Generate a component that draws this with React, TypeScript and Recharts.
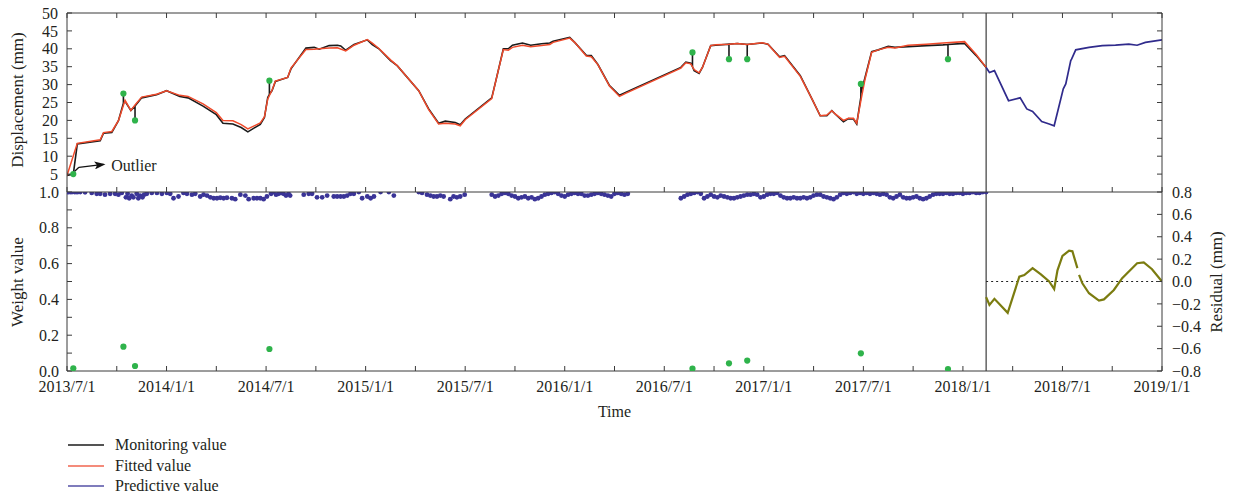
import React from 'react';
import { ComposedChart, Line, Scatter, XAxis, YAxis, ReferenceLine, ReferenceDot, Label } from 'recharts';

// time is counted in months from 2013/7/1
const dateLabels = ['2013/7/1', '2014/1/1', '2014/7/1', '2015/1/1', '2015/7/1', '2016/1/1', '2016/7/1', '2017/1/1', '2017/7/1', '2018/1/1', '2018/7/1', '2019/1/1'];
const monthTicks = [0, 3, 6, 9, 12, 15, 18, 21, 24, 27, 30, 33, 36, 39, 42, 45, 48, 51, 54, 57, 60, 63, 66];
const displacementTicks = [5, 10, 15, 20, 25, 30, 35, 40, 45, 50];
const weightTicks = [0, 0.1, 0.2, 0.3, 0.4, 0.5, 0.6, 0.7, 0.8, 0.9, 1.0];
const residualTicks = [-0.8, -0.6, -0.4, -0.2, 0, 0.2, 0.4, 0.6, 0.8];

const forecastStart = 55.4;

// [month, displacement mm] - spikes are the raw outliers
const monitoring: [number, number][] = [
    [0, 4.6], [0.38, 5.0], [0.62, 13.4], [2.0, 14.3], [2.2, 16.4], [2.7, 16.6], [3.1, 19.9],
    [3.4, 24.8], [3.4, 27.5], [3.4, 24.8], [3.5, 25.3], [3.85, 22.8], [4.1, 24.0], [4.1, 20.0], [4.1, 24.0],
    [4.5, 26.3], [5.4, 27.2], [6.0, 28.3], [6.8, 26.7], [7.3, 26.3], [8.2, 24.0], [9.0, 21.6], [9.4, 19.2],
    [10.0, 19.0], [10.5, 18.0], [10.9, 16.8], [11.65, 18.9], [11.9, 20.8], [12.1, 26.4], [12.2, 27.3],
    [12.2, 31.1], [12.2, 27.3], [12.36, 28.3], [12.56, 30.9], [13.3, 32.0], [13.5, 34.4], [14.4, 40.2],
    [14.9, 40.4], [15.2, 39.9], [15.8, 40.9], [16.3, 41.0], [16.5, 40.8], [16.8, 39.6], [17.3, 41.2],
    [18.1, 42.5], [18.4, 41.2], [18.8, 40.0], [19.5, 36.7], [19.9, 35.3], [21.2, 28.3], [21.8, 23.2],
    [22.4, 19.2], [22.8, 19.8], [23.4, 19.4], [23.7, 18.8], [24.0, 20.4], [25.6, 26.3], [25.85, 31.1],
    [26.3, 40.0], [26.6, 40.0], [26.85, 41.0], [27.45, 41.6], [27.95, 41.0], [28.6, 41.4], [29.1, 41.6],
    [29.3, 42.1], [30.3, 43.2], [30.6, 41.8], [31.3, 38.2], [31.6, 38.1], [32.0, 35.6], [32.7, 29.7],
    [33.3, 27.0], [33.7, 27.9], [37.0, 34.8], [37.3, 36.3], [37.6, 36.0], [37.7, 35.0], [37.7, 39.0],
    [37.7, 35.0], [37.8, 33.9], [38.1, 33.1], [38.3, 34.8], [38.8, 40.9], [39.1, 41.0], [39.9, 41.3],
    [39.9, 37.1], [39.9, 41.3], [40.4, 41.5], [41.0, 41.2], [41.0, 37.1], [41.0, 41.2], [41.9, 41.6],
    [42.25, 41.3], [42.95, 37.8], [43.25, 38.1], [44.2, 32.5], [44.9, 26.0], [45.4, 21.3], [45.8, 21.3],
    [46.1, 22.7], [46.3, 21.8], [46.8, 19.6], [47.1, 20.5], [47.4, 20.4], [47.6, 19.0], [47.85, 26.5],
    [47.85, 30.2], [47.85, 27.5], [48.1, 32.0], [48.5, 39.2], [48.9, 39.7], [49.5, 40.7], [49.9, 40.4],
    [50.7, 40.6], [51.8, 40.9], [52.8, 41.1], [53.1, 41.2], [53.1, 37.1], [53.1, 41.2], [54.1, 41.5],
    [54.8, 38.1], [55.4, 34.8],
];

const fitted: [number, number][] = [
    [0, 4.6], [0.62, 13.6], [2.0, 14.6], [2.2, 16.6], [2.7, 16.9], [3.1, 19.9], [3.5, 25.6], [3.85, 22.8],
    [4.1, 24.3], [4.5, 26.5], [5.4, 27.3], [6.0, 28.3], [6.8, 27.0], [7.3, 26.7], [8.2, 24.6], [9.0, 22.2],
    [9.4, 20.0], [10.0, 19.9], [10.5, 18.8], [10.9, 17.6], [11.65, 19.3], [11.9, 21.0], [12.1, 26.0],
    [12.36, 28.5], [12.56, 31.0], [13.3, 32.0], [13.5, 34.6], [14.4, 39.8], [14.9, 39.9], [15.2, 40.0],
    [15.8, 40.2], [16.3, 40.3], [16.8, 39.4], [17.3, 41.0], [18.1, 42.6], [18.4, 41.6], [18.8, 40.1],
    [19.5, 36.9], [19.9, 35.3], [21.2, 28.3], [21.8, 23.0], [22.4, 19.0], [22.8, 19.2], [23.4, 19.0],
    [23.7, 18.5], [24.0, 20.2], [25.6, 26.1], [25.85, 31.1], [26.3, 39.8], [26.6, 39.6], [26.85, 40.4],
    [27.45, 41.0], [27.95, 40.6], [28.6, 40.9], [29.1, 41.2], [29.3, 41.8], [30.3, 43.0], [30.6, 41.8],
    [31.3, 38.0], [31.6, 37.8], [32.0, 35.6], [32.7, 29.6], [33.3, 26.7], [33.7, 27.6], [37.0, 34.6],
    [37.3, 36.1], [37.6, 35.8], [37.8, 34.2], [38.1, 33.3], [38.3, 34.8], [38.8, 40.9], [39.1, 41.1],
    [39.9, 41.3], [40.4, 41.5], [41.0, 41.2], [41.9, 41.7], [42.25, 41.3], [42.95, 37.6], [43.25, 37.9],
    [44.2, 32.3], [44.9, 26.0], [45.4, 21.3], [45.8, 21.5], [46.1, 22.7], [46.3, 21.8], [46.8, 20.0],
    [47.1, 20.6], [47.4, 20.6], [47.6, 19.2], [47.85, 25.5], [48.1, 31.5], [48.5, 39.0], [48.9, 39.7],
    [49.5, 40.4], [49.9, 40.2], [50.7, 41.0], [51.8, 41.3], [52.8, 41.6], [54.1, 42.0], [54.8, 38.4],
    [55.4, 34.8],
];

const predictive: [number, number][] = [
    [55.4, 34.8], [55.6, 33.4], [55.9, 33.9], [56.75, 25.5], [57.45, 26.3], [57.85, 23.2], [58.2, 22.5],
    [58.75, 19.7], [59.2, 19.0], [59.5, 18.5], [60.05, 28.8], [60.2, 30.2], [60.5, 36.7], [60.55, 37.1],
    [60.8, 39.7], [61.6, 40.4], [62.4, 40.9], [63.2, 41.0], [64.0, 41.3], [64.5, 41.0], [65.0, 41.8],
    [66.0, 42.5],
];

// [month, residual mm]
const residual: [number, number | null][] = [
    [55.4, -0.14], [55.6, -0.21], [55.9, -0.155], [56.7, -0.28], [57.4, 0.043], [57.7, 0.058],
    [58.2, 0.12], [58.7, 0.064], [59.2, 0.0], [59.5, -0.067], [59.7, 0.1], [60.0, 0.228],
    [60.4, 0.275], [60.6, 0.27], [60.9, 0.12], [60.95, null], [61.0, 0.06], [61.2, -0.016], [61.6, -0.105],
    [62.2, -0.17], [62.5, -0.16], [63.1, -0.076], [63.6, 0.03], [64.5, 0.163], [64.9, 0.17], [65.4, 0.11],
    [66.0, 0.0],
];

const outlierMonths = [0.38, 3.4, 4.1, 12.2, 37.7, 39.9, 41.0, 47.85, 53.1];
const outlierValues = [5.0, 27.5, 20.0, 31.1, 39.0, 37.1, 37.1, 30.2, 37.1];
const outlierWeights = [0.015, 0.136, 0.028, 0.123, 0.013, 0.043, 0.058, 0.099, 0.011];

// [month, weight] for the sparse stretches
const sparseWeights: [number, number][] = [
    [0, 1], [0.1, 1], [0.2, 1], [0.3, 1], [0.45, 1], [0.55, 1], [0.65, 1], [0.8, 1], [1.09, 0.998],
    [1.49, 0.995], [1.79, 0.99], [2.0, 0.99], [2.29, 0.985], [2.6, 0.99], [2.9, 0.99], [3.1, 0.985],
    [3.3, 0.995], [3.55, 0.97], [3.65, 0.99], [3.75, 0.965], [3.9, 0.98], [4.0, 0.97], [4.2, 0.99],
    [4.3, 0.965], [4.4, 0.98], [4.55, 0.97], [4.65, 0.985], [4.81, 0.99], [5.11, 0.995], [5.42, 0.995],
    [5.72, 0.99], [6.02, 0.995], [6.22, 0.99], [6.42, 0.965], [6.72, 0.975], [7.02, 0.995], [7.23, 0.99],
    [7.53, 0.985], [7.73, 0.99], [8.03, 0.975], [8.23, 0.985], [8.44, 0.98], [8.64, 0.97], [8.84, 0.965],
    [9.04, 0.965], [9.24, 0.968], [9.44, 0.965], [9.64, 0.968], [9.94, 0.965], [10.14, 0.96], [10.45, 0.985],
    [10.75, 0.98], [10.95, 0.96], [11.25, 0.965], [11.45, 0.965], [11.65, 0.965], [11.85, 0.96],
    [12.05, 0.975], [12.3, 0.99], [12.45, 1.0], [12.6, 0.985], [12.75, 0.99], [12.9, 0.995], [13.05, 0.99],
    [13.2, 0.98], [13.35, 0.99], [13.45, 0.98], [14.27, 0.985], [14.57, 0.99], [14.77, 0.99], [15.07, 0.97],
    [15.38, 0.97], [15.68, 0.98], [16.08, 0.975], [16.28, 0.975], [16.49, 0.975], [16.69, 0.975],
    [16.89, 0.98], [17.09, 0.99], [17.29, 0.99], [17.59, 1.0], [17.79, 0.965], [18.1, 0.975], [18.3, 0.965],
    [18.5, 0.975], [18.9, 1.0], [19.4, 1.0], [19.7, 0.98], [21.2, 1.0], [21.4, 0.995], [21.7, 0.985],
    [21.9, 0.98], [22.1, 0.975], [22.3, 0.975], [22.5, 0.98], [22.7, 0.975], [23.1, 0.96], [23.3, 0.975],
    [23.5, 0.97], [23.7, 0.975], [23.97, 0.985],
];

// dense stretches, one reading every 0.2 month
const denseStartA = 25.6;
const denseWeightsA = [
    0.985, 0.975, 0.98, 0.99, 0.995, 0.99, 0.98, 0.975, 0.965, 0.97,
    0.975, 0.965, 0.97, 0.96, 0.965, 0.975, 0.985, 0.99, 0.995, 1.0,
    0.99, 0.98, 0.975, 0.985, 0.99, 0.995, 0.99, 0.99, 0.98, 0.98,
    0.985, 0.99, 0.995, 0.99, 0.985, 0.98, 0.975, 0.99, 0.995, 0.99,
    0.985, 0.99,
];
const denseStartB = 37.0;
const denseWeightsB = [
    0.965, 0.975, 0.985, 0.99, 0.995, 1.0, 0.99, 0.965, 0.975, 0.985,
    0.975, 0.97, 0.98, 0.975, 0.97, 0.965, 0.965, 0.97, 0.975, 0.98,
    0.985, 0.985, 0.99, 0.985, 0.97, 0.975, 0.985, 0.99, 0.99, 0.995,
    0.98, 0.97, 0.965, 0.965, 0.97, 0.965, 0.965, 0.97, 0.965, 0.97,
    0.98, 0.985, 0.985, 0.975, 0.97, 0.965, 0.96, 0.97, 0.985, 0.995,
    0.99, 0.995, 1.0, 0.99, 0.995, 0.99, 0.995, 0.99, 0.995, 0.99,
    0.985, 0.99, 0.985, 0.97, 0.965, 0.975, 0.985, 0.97, 0.965, 0.965,
    0.97, 0.975, 0.965, 0.96, 0.965, 0.975, 0.985, 0.99, 0.99, 0.99,
    0.995, 0.99, 0.99, 0.995, 0.995, 0.99, 0.995, 0.995, 1.0, 0.995,
    0.995, 1.0, 1.0,
];

const INK = '#231f20';
const AXIS = '#3a3a3a';
const C_MON = '#1b1b1b';
const C_FIT = '#ef4a2b';
const C_PRED = '#302b8c';
const C_DOT = '#3a3497';
const C_OUT = '#2fb34b';
const C_RES = '#7b7c10';

const monPts = monitoring.map(([m, v]) => ({ m, v }));
const fitPts = fitted.map(([m, v]) => ({ m, v }));
const predPts = predictive.map(([m, v]) => ({ m, v }));
const resPts = residual.map(([m, r]) => ({ m, r }));
const outlierPts = outlierMonths.map((m, i) => ({ m, v: outlierValues[i] }));
const outlierWeightPts = outlierMonths.map((m, i) => ({ m, w: outlierWeights[i] }));
const weightPts = [
    ...sparseWeights.map(([m, w]) => ({ m, w })),
    ...denseWeightsA.map((w, i) => ({ m: +(denseStartA + i * 0.2).toFixed(2), w })),
    ...denseWeightsB.map((w, i) => ({ m: +(denseStartB + i * 0.2).toFixed(2), w })),
];

const tickStyle = { fill: INK, fontSize: 16 };
const blank = () => '';
const dateFormatter = (m: number) => (m % 6 === 0 ? dateLabels[m / 6] : '');
const weightFormatter = (v: number) => (Math.round(v * 10) % 2 === 0 ? v.toFixed(1) : '');
const residualFormatter = (v: number) => (v < 0 ? '\u2212' + Math.abs(v).toFixed(1) : v.toFixed(1));

const blueDot = (p: any) => <circle cx={p.cx} cy={p.cy} r={2.4} fill={C_DOT} />;
const greenDot = (p: any) => <circle cx={p.cx} cy={p.cy} r={3.1} fill={C_OUT} />;

const legendItems = [
    { label: 'Monitoring value', color: C_MON },
    { label: 'Fitted value', color: '#f0654f' },
    { label: 'Predictive value', color: '#5550a6' },
];

const TopPanel: React.FC = () => (
    <ComposedChart width={1234} height={200} margin={{ top: 8, right: 62, bottom: 3, left: 27 }}>
        <defs>
            <marker id="outlierArrow" markerWidth="11" markerHeight="8" refX="9" refY="4" orient="auto" markerUnits="userSpaceOnUse">
                <path d="M0,0 L11,4 L0,8 L2.5,4 z" fill="#111" />
            </marker>
        </defs>
        <XAxis xAxisId="b" dataKey="m" type="number" domain={[0, 66]} allowDataOverflow ticks={monthTicks} interval={0}
            tickFormatter={blank} tickSize={-5} height={5} stroke={AXIS} />
        <XAxis xAxisId="t" orientation="top" dataKey="m" type="number" domain={[0, 66]} allowDataOverflow ticks={monthTicks}
            interval={0} tickFormatter={blank} tickSize={-5} height={5} stroke={AXIS} />
        <YAxis yAxisId="v" dataKey="v" type="number" domain={[0, 50]} allowDataOverflow ticks={displacementTicks} interval={0}
            tickSize={-5} tickMargin={14} width={40} tick={tickStyle} stroke={AXIS} />
        <YAxis yAxisId="vr" orientation="right" type="number" domain={[0, 50]} allowDataOverflow ticks={displacementTicks}
            interval={0} tickFormatter={blank} tickSize={-5} width={10} stroke={AXIS} />
        <ReferenceLine xAxisId="b" yAxisId="v" x={forecastStart} stroke="#4a4a4a" strokeWidth={1.3} />
        <Line xAxisId="b" yAxisId="v" data={monPts} dataKey="v" stroke={C_MON} strokeWidth={1.6} dot={false} isAnimationActive={false} />
        <Line xAxisId="b" yAxisId="v" data={fitPts} dataKey="v" stroke={C_FIT} strokeWidth={1.5} dot={false} isAnimationActive={false} />
        <Line xAxisId="b" yAxisId="v" data={predPts} dataKey="v" stroke={C_PRED} strokeWidth={1.7} dot={false} isAnimationActive={false} />
        <Scatter xAxisId="b" yAxisId="v" data={outlierPts} dataKey="v" shape={greenDot} isAnimationActive={false} />
        <ReferenceLine xAxisId="b" yAxisId="v" segment={[{ x: 0.45, y: 5.7 }, { x: 0.72, y: 6.9 }]} stroke="#111" strokeWidth={1.3} />
        <ReferenceLine xAxisId="b" yAxisId="v" segment={[{ x: 0.72, y: 6.9 }, { x: 2.2, y: 7.7 }]} stroke="#111" strokeWidth={1.3}
            markerEnd="url(#outlierArrow)" />
        <ReferenceDot xAxisId="b" yAxisId="v" x={2.55} y={7.5} r={0} stroke="none"
            label={{ value: 'Outlier', position: 'right', offset: 2, fill: INK, fontSize: 16 }} />
    </ComposedChart>
);

const BottomPanel: React.FC = () => (
    <ComposedChart width={1234} height={430} margin={{ top: 192, right: 62, bottom: 27, left: 27 }}>
        <XAxis xAxisId="b" dataKey="m" type="number" domain={[0, 66]} allowDataOverflow ticks={monthTicks} interval={0}
            tickFormatter={dateFormatter} tickSize={-5} tickMargin={15} height={32} tick={tickStyle} stroke={AXIS}>
            <Label value="Time" position="bottom" offset={3} fill={INK} fontSize={16} />
        </XAxis>
        <YAxis yAxisId="w" dataKey="w" type="number" domain={[0, 1]} allowDataOverflow ticks={weightTicks} interval={0}
            tickFormatter={weightFormatter} tickSize={-5} tickMargin={13} width={40} tick={tickStyle} stroke={AXIS} />
        <YAxis yAxisId="r" dataKey="r" orientation="right" type="number" domain={[-0.8, 0.8]} allowDataOverflow
            ticks={residualTicks} interval={0} tickFormatter={residualFormatter} tickSize={-5} tickMargin={15} width={10}
            tick={{ ...tickStyle, textAnchor: 'start' }} stroke={AXIS} />
        <ReferenceLine xAxisId="b" yAxisId="w" x={forecastStart} stroke="#4a4a4a" strokeWidth={1.3} />
        <ReferenceLine xAxisId="b" yAxisId="r" segment={[{ x: forecastStart, y: 0 }, { x: 66, y: 0 }]} stroke="#222"
            strokeWidth={1.1} strokeDasharray="2 3" />
        <Scatter xAxisId="b" yAxisId="w" data={weightPts} dataKey="w" shape={blueDot} isAnimationActive={false} />
        <Scatter xAxisId="b" yAxisId="w" data={outlierWeightPts} dataKey="w" shape={greenDot} isAnimationActive={false} />
        <Line xAxisId="b" yAxisId="r" data={resPts} dataKey="r" stroke={C_RES} strokeWidth={2.2} dot={false} isAnimationActive={false} />
    </ComposedChart>
);

const titleStyle = (left: number, top: number): React.CSSProperties => ({
    position: 'absolute',
    left,
    top,
    transform: 'translate(-50%, -50%) rotate(-90deg)',
    whiteSpace: 'nowrap',
    fontSize: 17,
});

const App: React.FC = () => {
    return (
        <div style={{ position: 'absolute', left: 0, top: 0, width: 1234, height: 496, background: '#fff', color: INK, fontFamily: '"Liberation Serif", "DejaVu Serif", serif' }}>
            <div style={{ position: 'absolute', left: 0, top: 0 }}>
                <BottomPanel />
            </div>
            <div style={{ position: 'absolute', left: 0, top: 0 }}>
                <TopPanel />
            </div>
            <div style={titleStyle(18, 100)}>Displacement (mm)</div>
            <div style={titleStyle(18, 282)}>Weight value</div>
            <div style={titleStyle(1217, 282)}>Residual (mm)</div>
            {legendItems.map((it, i) => (
                <div key={it.label} style={{ position: 'absolute', left: 68, top: 436 + i * 20.5, height: 18, display: 'flex', alignItems: 'center', fontSize: 16 }}>
                    <svg width={36} height={4}>
                        <line x1={0} y1={2} x2={36} y2={2} stroke={it.color} strokeWidth={1.6} />
                    </svg>
                    <span style={{ marginLeft: 11 }}>{it.label}</span>
                </div>
            ))}
        </div>
    );
};

export default App;
